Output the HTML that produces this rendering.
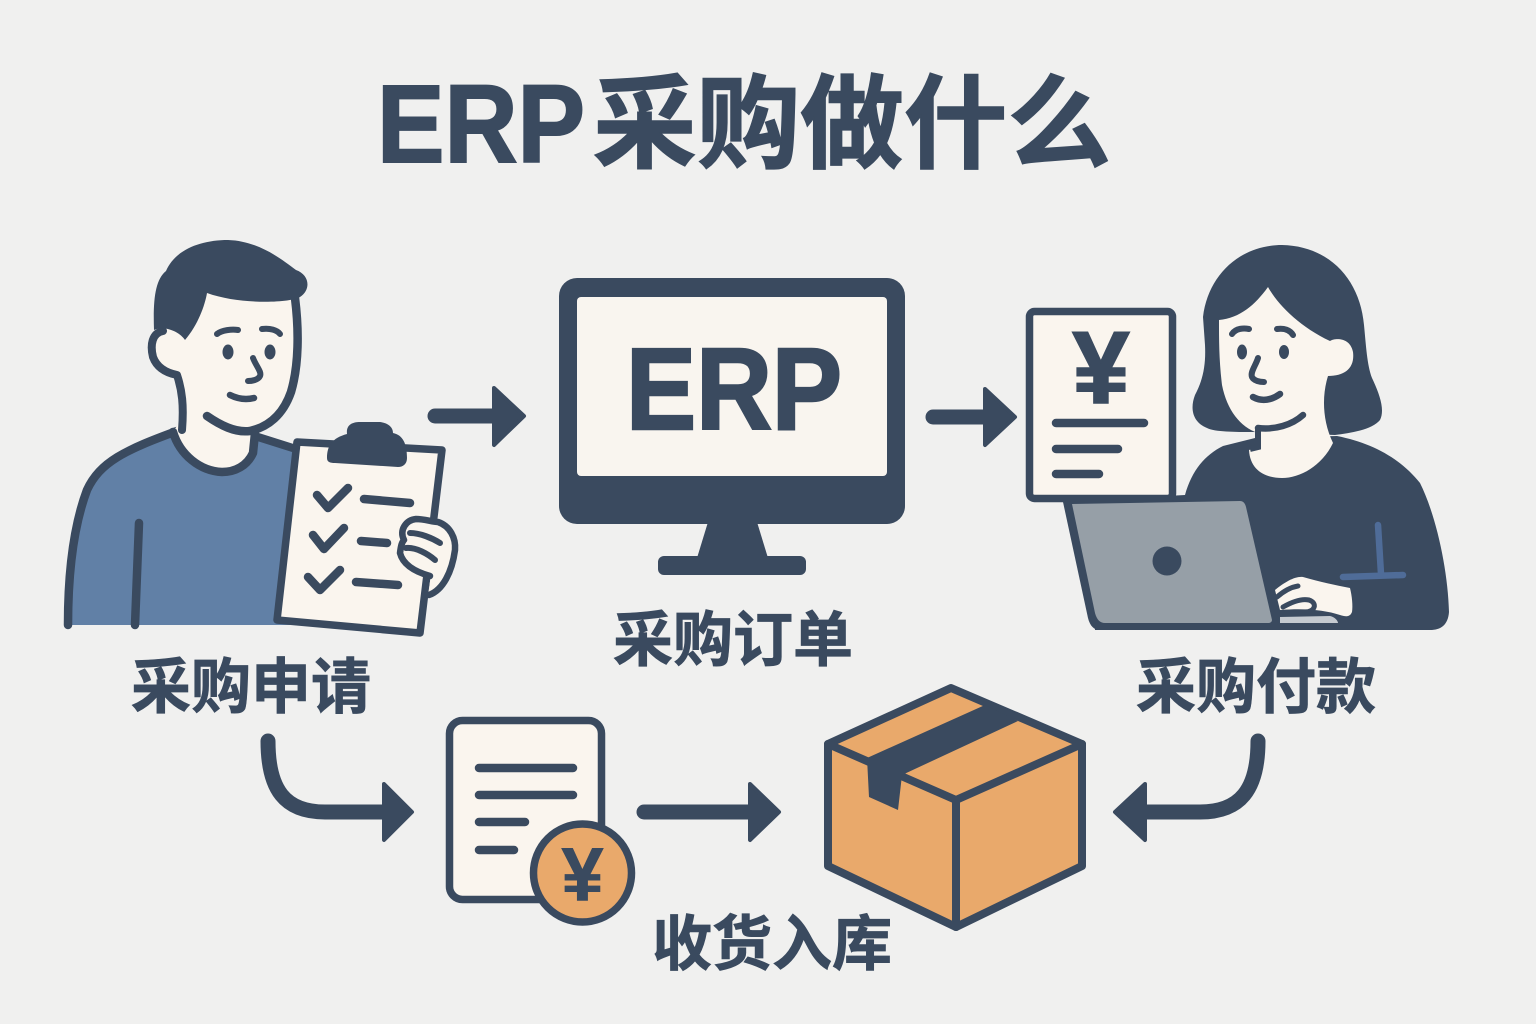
<!DOCTYPE html>
<html><head><meta charset="utf-8"><style>
html,body{margin:0;padding:0;background:#f0f0ef;width:1536px;height:1024px;overflow:hidden}
svg{display:block}
.cjk{font-family:"Liberation Sans","Noto Sans CJK SC",sans-serif;font-weight:700;fill:#3a4a5f;stroke:#3a4a5f;stroke-width:.8}
.lat{font-family:"Liberation Sans",sans-serif;font-weight:700;fill:#3a4a5f;stroke:#3a4a5f;stroke-width:2}
.s{fill:none;stroke:#3a4a5f;stroke-linecap:round;stroke-linejoin:round}
</style></head><body>
<svg width="1536" height="1024" viewBox="0 0 1536 1024" xmlns="http://www.w3.org/2000/svg">
<rect width="1536" height="1024" fill="#f0f0ef"/>
<!-- title -->
<text class="lat" x="377" y="162" font-size="110" textLength="208" lengthAdjust="spacingAndGlyphs">ERP</text>
<text class="cjk" x="593" y="160" font-size="102" textLength="518" lengthAdjust="spacingAndGlyphs" style="stroke-width:1.5">采购做什么</text>

<!-- man body -->
<path d="M68,625 C68,580 72,530 87,490 C100,462 125,450 177,431 L215,440 L262,437 L300,449 L290,625 Z" fill="#6180a6"/>
<path class="s" stroke-width="8.5" d="M68,625 C68,580 72,530 87,490 C100,462 125,450 177,431"/>
<path class="s" stroke-width="8" d="M258,437 L296,449"/>
<path class="s" stroke-width="8.5" d="M139,523 L135,625"/>
<!-- man face & neck -->
<path d="M207,293 L295,298 C299,330 299,365 291,392 C283,415 268,427 255,431 L254,452 C248,465 235,472 222,472 C200,471 180,455 173,431 L182,420 C183,405 182,390 177,375 C160,373 151,358 152,342 C153,333 158,330 165,330 Z" fill="#faf5ee"/>
<path class="s" stroke-width="8.5" d="M295,298 C299,330 299,365 291,392 C283,415 268,427 250,431 C235,433 220,425 207,416"/>
<path class="s" stroke-width="8.5" d="M255,433 L253,453 C247,466 235,472 222,472 C200,471 180,455 173,432"/>
<path class="s" stroke-width="8" d="M163,331 C152,333 150,345 153,357 C157,368 167,373 177,375 C182,390 184,405 182,430"/>
<!-- man hair -->
<path d="M154,330 C153,300 155,280 166,271 C175,250 200,240 228,240 C258,241 280,258 296,270 C310,275 311,290 300,297 C290,303 240,305 207,293 C205,305 198,325 185,340 C180,332 165,325 154,330 Z" fill="#3a4a5f"/>
<path class="s" stroke-width="6" d="M217,334 C222,330 232,329 238,330 M262,329 C270,328 277,330 280,334"/>
<ellipse cx="228" cy="352" rx="5.5" ry="7.5" fill="#3a4a5f"/><ellipse cx="270" cy="352" rx="5.5" ry="7.5" fill="#3a4a5f"/>
<path class="s" stroke-width="6" d="M253,358 C256,366 262,372 260,376 C258,380 252,381 248,381"/>
<path class="s" stroke-width="6.5" d="M230,395 C238,399 246,400 254,398"/>

<!-- clipboard -->
<path d="M297,442 L442,450 L420,633 L277,620 Z" fill="#faf5ee" stroke="#3a4a5f" stroke-width="7.5" stroke-linejoin="round"/>
<path d="M327,458 C327,446 332,438 347,434 C346,425 352,422 360,422 L380,422 C388,423 393,427 393,433 C403,435 407,444 407,458 C407,464 403,467 398,467 L335,463 C330,463 327,462 327,458 Z" fill="#3a4a5f"/>
<path class="s" stroke-width="8.5" d="M317,495 L328,508 L348,488 M313,535 L324,549 L344,528 M308,577 L320,590 L340,570"/>
<path class="s" stroke-width="8.5" d="M364,499 L410,503 M361,541 L387,543 M356,582 L398,585"/>
<!-- hand -->
<path d="M437,521 C450,525 456,537 455,550 C452,572 443,590 428,595 L431,575 C415,572 402,565 400,553 C402,545 400,535 405,528 C410,518 425,519 437,521 Z" fill="#faf5ee"/>
<path class="s" stroke-width="6.5" d="M430,576 C416,572 403,565 400,553 C401,545 402,542 404,540 C399,530 406,520 416,519 C425,519 432,522 438,522 C450,526 456,538 455,550 C452,572 443,590 429,595"/>
<path class="s" stroke-width="6" d="M410,533 C420,533 432,538 440,543 M406,548 C416,547 428,554 435,560"/>

<!-- arrow 1 -->
<path d="M435,416 L495,416" class="s" stroke-width="15"/>
<path d="M494,388 L524,416 L494,445 Z" fill="#3a4a5f" stroke="#3a4a5f" stroke-width="4" stroke-linejoin="round"/>
<!-- monitor -->
<rect x="559" y="278" width="346" height="246" rx="18" fill="#3a4a5f"/>
<rect x="577" y="297" width="310" height="179" rx="4" fill="#f9f5ef"/>
<polygon points="708,522 757,522 768,558 697,558" fill="#3a4a5f"/>
<rect x="658" y="556" width="148" height="19" rx="6" fill="#3a4a5f"/>
<text class="lat" x="626" y="429" font-size="116" textLength="216" lengthAdjust="spacingAndGlyphs" style="stroke-width:2.5">ERP</text>
<!-- arrow 2 -->
<path d="M933,417 L988,417" class="s" stroke-width="15"/>
<path d="M985,389 L1015,417 L985,445 Z" fill="#3a4a5f" stroke="#3a4a5f" stroke-width="4" stroke-linejoin="round"/>

<!-- woman -->
<path d="M1185,495 C1192,470 1205,455 1223,446 L1255,438 L1337,436 C1372,443 1400,458 1420,483 C1436,515 1448,570 1449,612 C1448,625 1441,630 1430,630 L1095,630 L1090,500 Z" fill="#3a4a5f"/>
<path d="M1203,317 C1208,275 1240,245 1282,245 C1330,246 1360,280 1364,325 C1366,345 1367,365 1372,378 C1380,395 1385,410 1380,420 C1372,430 1350,433 1335,435 L1253,432 C1235,432 1215,432 1207,428 C1192,422 1190,408 1195,395 C1203,380 1206,365 1205,345 Z" fill="#3a4a5f"/>
<path d="M1268,287 C1278,305 1300,327 1330,341 C1335,338 1350,337 1353,352 C1355,368 1345,376 1328,376 C1322,395 1322,420 1333,443 C1322,466 1300,478 1282,478 C1265,478 1250,470 1249,450 L1258,447 L1258,433 C1240,427 1227,410 1222,385 C1219,360 1219,340 1219,320 C1240,318 1255,305 1268,287 Z" fill="#faf5ee"/>
<path class="s" stroke-width="6.5" d="M1258,428 C1275,430 1292,425 1303,415"/>
<path d="M1258,428 L1258,447 L1250,449" fill="none" stroke="#3a4a5f" stroke-width="6"/>
<path class="s" stroke-width="6" d="M1232,334 C1236,328 1244,328 1249,329 M1277,329 C1284,328 1290,330 1293,335"/>
<ellipse cx="1242" cy="352" rx="5" ry="7.5" fill="#3a4a5f"/><ellipse cx="1284" cy="352" rx="5" ry="7" fill="#3a4a5f"/>
<path class="s" stroke-width="6" d="M1258,358 C1256,365 1250,372 1252,377 C1254,381 1260,382 1264,382"/>
<path class="s" stroke-width="6.5" d="M1253,397 C1262,402 1272,400 1280,394"/>
<!-- doc with yen -->
<rect x="1029.5" y="311.5" width="143" height="187" rx="5" fill="#faf5ee" stroke="#3a4a5f" stroke-width="7.5"/>
<text class="lat" x="1101" y="403" font-size="102" text-anchor="middle">¥</text>
<path class="s" stroke-width="8.5" d="M1056,423 L1144,423 M1056,449 L1118,449 M1056,474 L1099,474"/>
<!-- laptop -->
<path d="M1063,502 L1240,500 C1245,500 1248,503 1249,507 L1278,625 L1278,630 L1100,630 C1094,630 1090,626 1088,618 Z" fill="#3a4a5f"/>
<path d="M1072,504 L1240,501 C1243,501 1245,503 1246,507 L1272,620 C1272,622 1270,623 1268,623 L1105,623 C1100,623 1097,620 1095,613 Z" fill="#969fa7"/>
<circle cx="1167" cy="561" r="14.5" fill="#3a4a5f"/>
<path d="M1280,617 L1330,616 C1335,617 1338,621 1338,623 L1280,623 Z" fill="#c5cad0"/>
<path d="M1275,590 C1285,582 1295,576 1303,577 C1320,582 1335,585 1350,588 C1352,596 1353,606 1352,612 C1350,617 1346,617 1340,615 C1325,610 1305,608 1280,610 Z" fill="#faf5ee"/>
<path class="s" stroke-width="5" d="M1277,597 C1285,590 1292,587 1298,586 M1283,607 C1290,603 1300,598 1309,600 C1318,603 1315,612 1305,612"/>
<path d="M1378,525 L1381,574 M1343,577 L1403,575" fill="none" stroke="#4f6c98" stroke-width="6.5" stroke-linecap="round"/>

<!-- labels -->
<text class="cjk" x="131" y="708" font-size="60">采购申请</text>
<text class="cjk" x="613" y="661" font-size="60">采购订单</text>
<text class="cjk" x="1136" y="708" font-size="60">采购付款</text>
<text class="cjk" x="652" y="965" font-size="60">收货入库</text>

<!-- curved arrow left -->
<path class="s" stroke-width="15" d="M268,741 C268,790 285,812 325,812 L386,812"/>
<path d="M384,784 L412,812 L384,840 Z" fill="#3a4a5f" stroke="#3a4a5f" stroke-width="4" stroke-linejoin="round"/>
<!-- doc & coin -->
<rect x="449.5" y="720.5" width="152" height="179" rx="13" fill="#faf5ee" stroke="#3a4a5f" stroke-width="7.5"/>
<path class="s" stroke-width="8.5" d="M479,768 L573,768 M479,795 L573,795 M479,822 L525,822 M479,850 L514,850"/>
<circle cx="582.5" cy="873" r="49" fill="#e9a96b" stroke="#3a4a5f" stroke-width="7.5"/>
<text class="lat" x="582.5" y="900" font-size="75" text-anchor="middle" style="stroke-width:1">¥</text>
<!-- mid arrow -->
<path class="s" stroke-width="15" d="M644,812 L752,812"/>
<path d="M750,784 L779,812 L750,840 Z" fill="#3a4a5f" stroke="#3a4a5f" stroke-width="4" stroke-linejoin="round"/>
<!-- box -->
<path d="M951,688 L1082,744 L1082,866 L956,927 L828,866 L828,744 Z" fill="#e9a96b" stroke="#3a4a5f" stroke-width="8" stroke-linejoin="round"/>
<path class="s" stroke-width="8" d="M828,744 L956,800 L1082,744 M956,800 L956,927"/>
<polygon points="985,705 1018,721 902,775 898,810 869,797 867,758" fill="#3a4a5f"/>
<!-- curved arrow right -->
<path class="s" stroke-width="15" d="M1258,741 C1258,790 1240,812 1200,812 L1143,812"/>
<path d="M1145,784 L1115,812 L1145,840 Z" fill="#3a4a5f" stroke="#3a4a5f" stroke-width="4" stroke-linejoin="round"/>
</svg>
</body></html>
